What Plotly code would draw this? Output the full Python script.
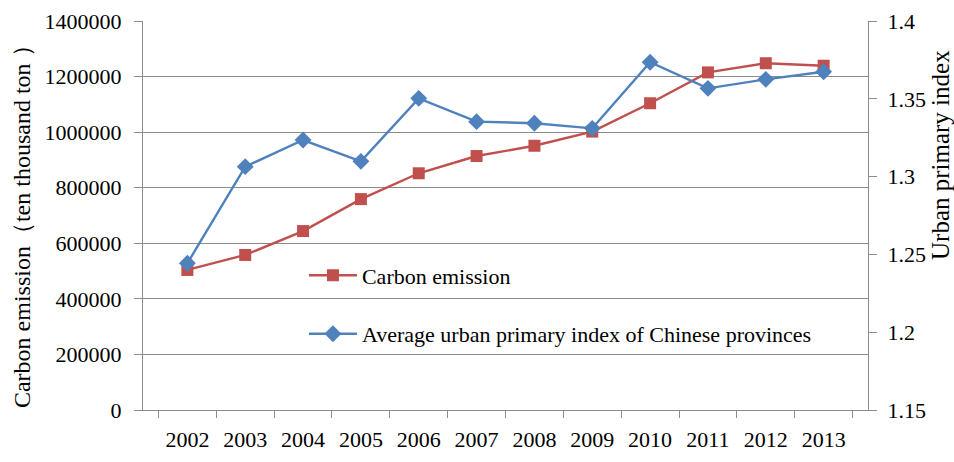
import plotly.graph_objects as go

years = ["2002", "2003", "2004", "2005", "2006", "2007", "2008", "2009", "2010", "2011", "2012", "2013"]
carbon = [504000, 558000, 644000, 759000, 852000, 914000, 951000, 1002000, 1104000, 1215000, 1248000, 1239000]
primacy = [1.2443, 1.3064, 1.3235, 1.3098, 1.3503, 1.3353, 1.3343, 1.3310, 1.3735, 1.3567, 1.3625, 1.3674]

left_ticks = [0, 200000, 400000, 600000, 800000, 1000000, 1200000, 1400000]
right_ticks = [1.15, 1.2, 1.25, 1.3, 1.35, 1.4]
right_ticktext = ["1.15", "1.2", "1.25", "1.3", "1.35", "1.4"]

left_title = "Carbon emission（ten thousand ton ）"
right_title = "Urban primary index"

FONT = "Liberation Serif, Times New Roman, serif"
GRID = "#8c8c8c"
FS = 22

fig = go.Figure()
fig.add_trace(go.Scatter(
    x=years, y=carbon, name="Carbon emission", mode="lines+markers",
    line=dict(color="#C0504D", width=2.4),
    marker=dict(symbol="square", size=12, color="#C0504D"),
    legendgroup="a", yaxis="y",
))
fig.add_trace(go.Scatter(
    x=years, y=primacy, name="Average urban primary index of Chinese provinces",
    mode="lines+markers",
    line=dict(color="#4F81BD", width=2.4),
    marker=dict(symbol="diamond", size=13, color="#4F81BD"),
    legendgroup="b", yaxis="y2",
))

fig.update_layout(
    width=954, height=462,
    margin=dict(l=143, r=86, t=21, b=52, autoexpand=False),
    paper_bgcolor="white", plot_bgcolor="white",
    font=dict(family=FONT, size=FS, color="black"),
    showlegend=True,
    legend=dict(
        x=0.222, y=0.40, xanchor="left", yanchor="top",
        bgcolor="rgba(255,255,255,0)", font=dict(size=FS, family=FONT),
        traceorder="grouped", tracegroupgap=27, itemwidth=48,
    ),
    xaxis=dict(
        type="category", tickson="boundaries", ticks="outside", ticklen=7,
        tickcolor=GRID, showline=True, linecolor=GRID, linewidth=1,
        showgrid=False, tickfont=dict(size=FS, family=FONT),
        ticklabelstandoff=10, automargin=False,
    ),
    yaxis=dict(
        range=[0, 1400000], tickvals=left_ticks,
        ticktext=[str(v) for v in left_ticks],
        ticks="outside", ticklen=8, tickcolor=GRID,
        showline=True, linecolor=GRID, linewidth=1,
        showgrid=True, gridcolor=GRID, gridwidth=1, zeroline=False,
        tickfont=dict(size=FS, family=FONT),
        ticklabelstandoff=8, automargin=False,
    ),
    yaxis2=dict(
        range=[1.15, 1.4], tickvals=right_ticks, ticktext=right_ticktext,
        overlaying="y", side="right",
        ticks="outside", ticklen=8, tickcolor=GRID,
        showline=True, linecolor=GRID, linewidth=1,
        showgrid=False, zeroline=False,
        tickfont=dict(size=FS, family=FONT),
        ticklabelstandoff=6, automargin=False,
    ),
    annotations=[
        dict(text=left_title, textangle=-90, xref="paper", yref="paper",
             x=-0.167, y=0.488, xanchor="center", yanchor="middle",
             showarrow=False, font=dict(size=24, family=FONT)),
        dict(text=right_title, textangle=-90, xref="paper", yref="paper",
             x=1.0993, y=0.6555, xanchor="center", yanchor="middle",
             showarrow=False, font=dict(size=25, family=FONT)),
    ],
)

fig.write_html("out.html", config={"displayModeBar": False},
               post_script="document.body.style.margin='0';")
